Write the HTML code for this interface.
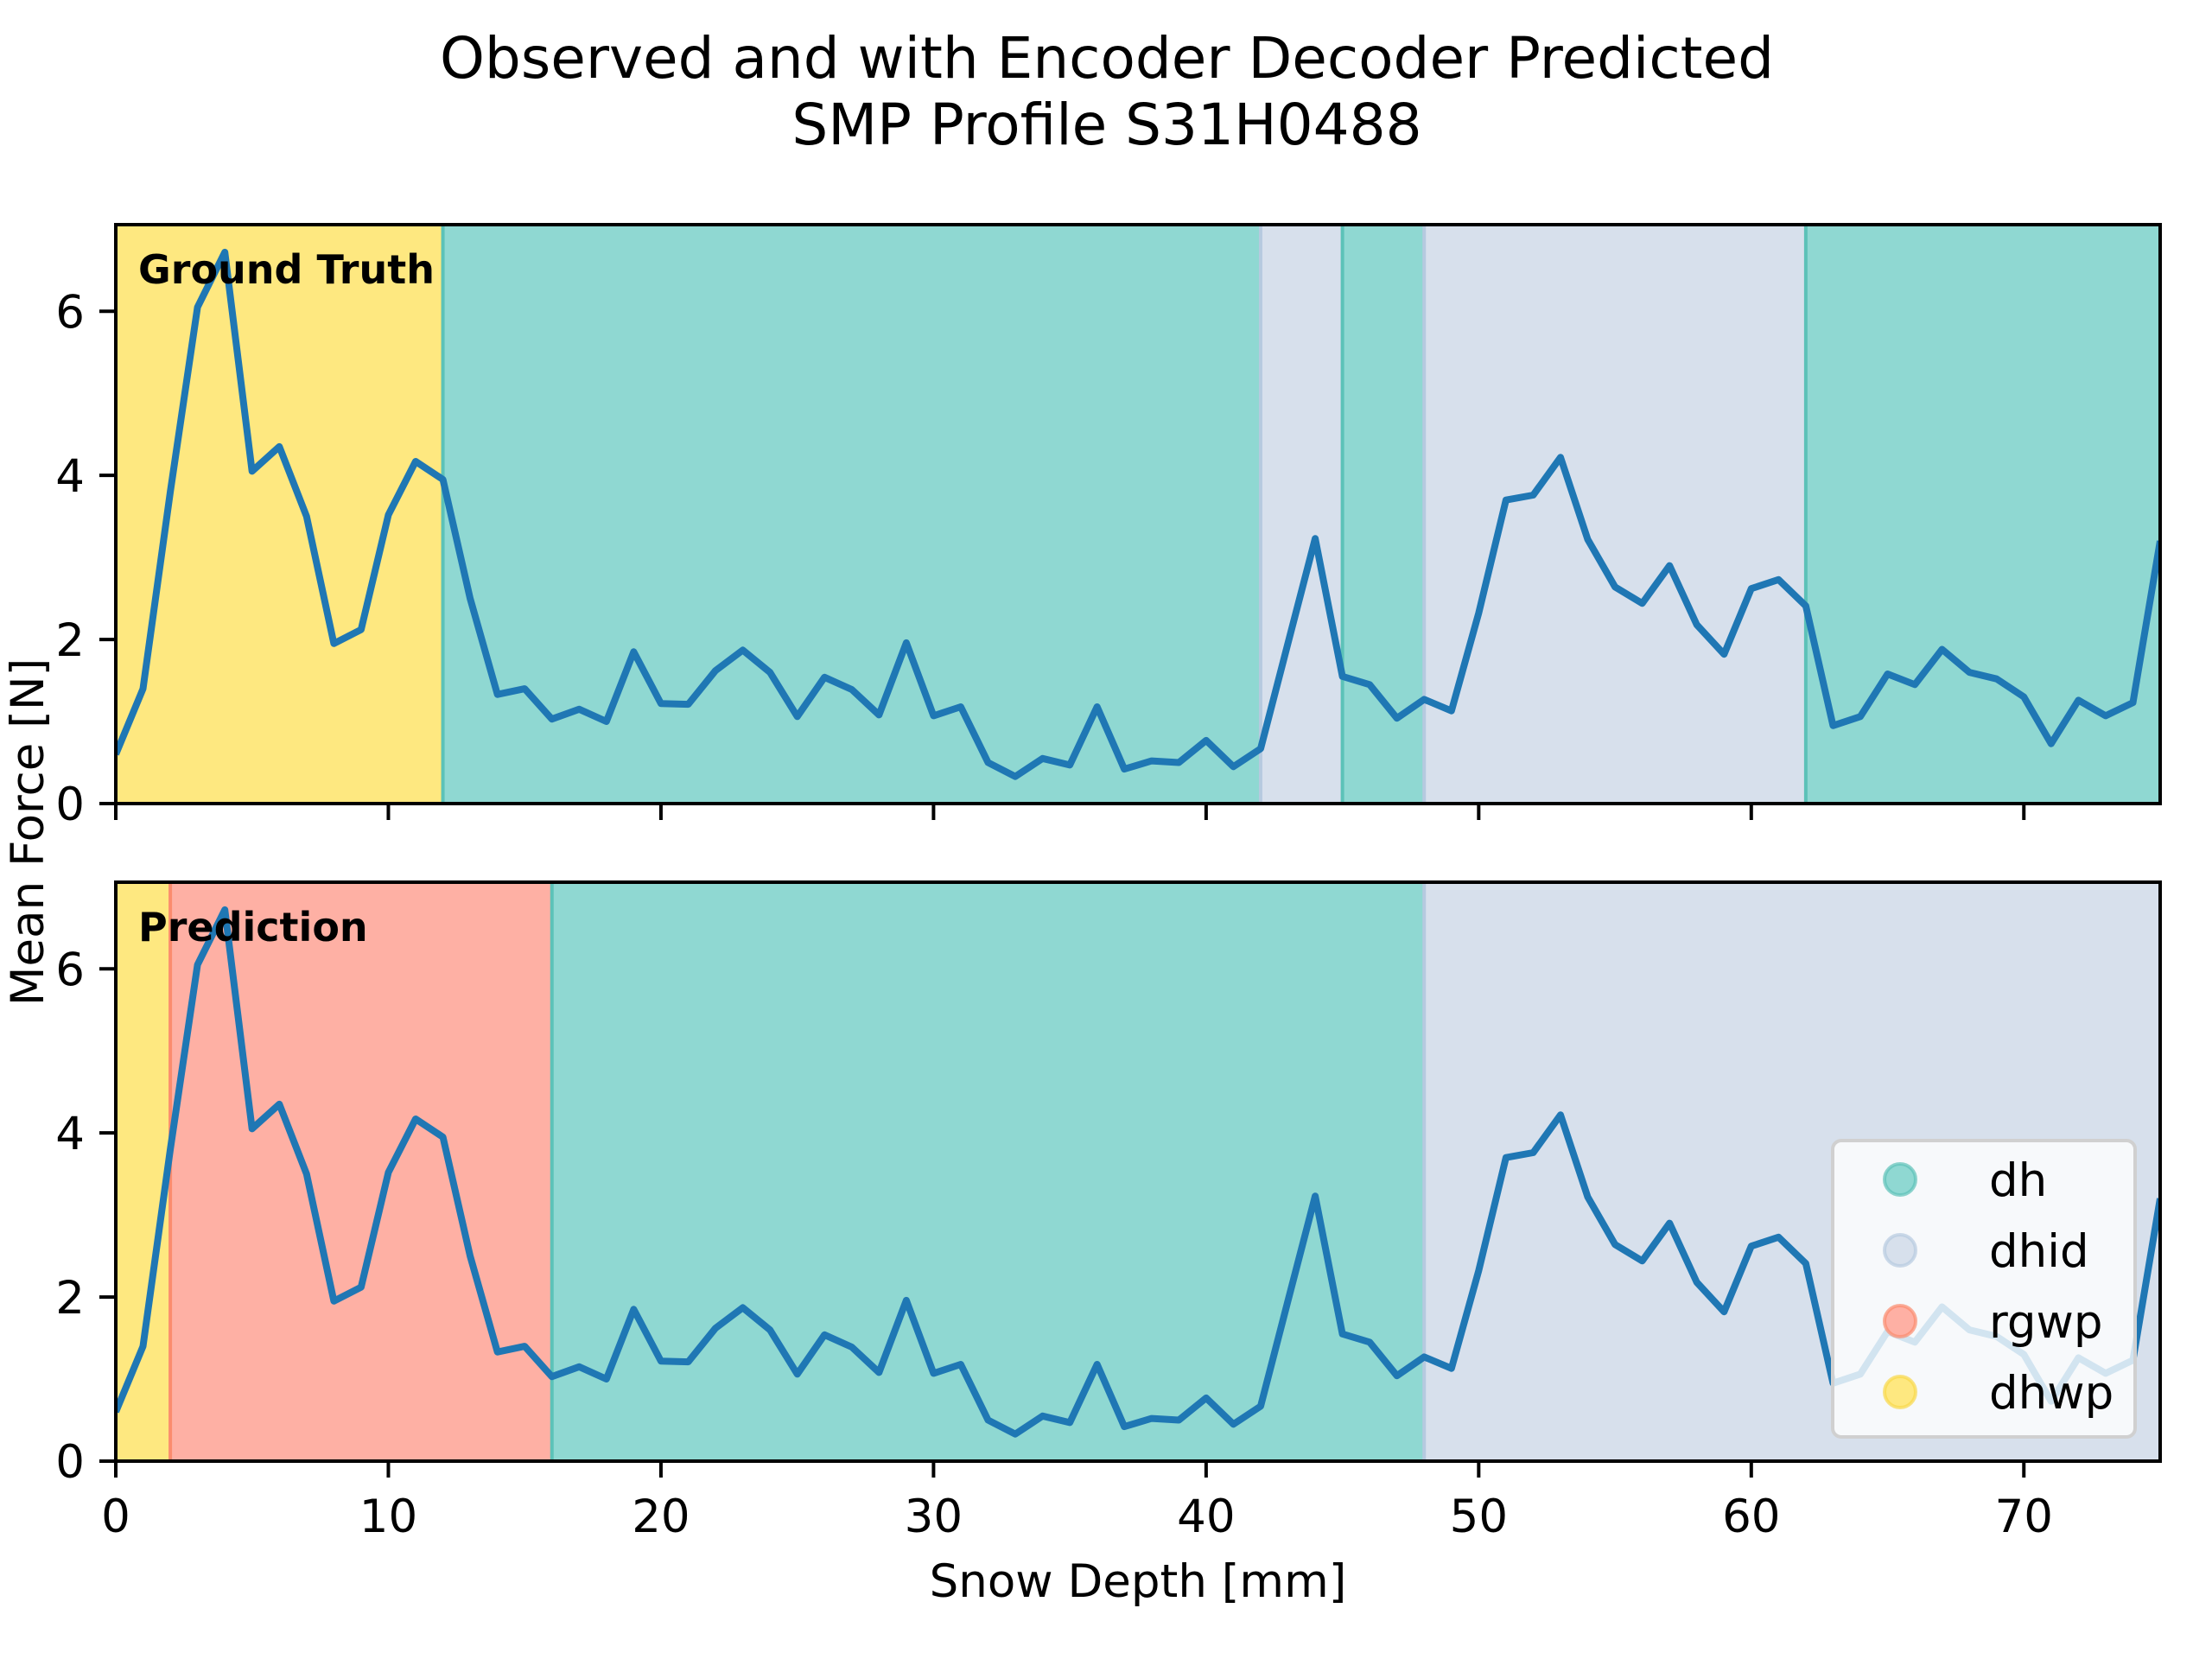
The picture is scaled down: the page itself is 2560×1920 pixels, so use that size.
<!DOCTYPE html>
<html><head><meta charset="utf-8"><style>
html,body{margin:0;padding:0;background:#fff}
svg{display:block}
text{font-family:"DejaVu Sans","Liberation Sans",sans-serif}
</style></head><body>
<svg id="chart" xmlns="http://www.w3.org/2000/svg" width="2560" height="1920" viewBox="0 0 2560 1920">
<rect width="2560" height="1920" fill="#fff"/>
<text x="1281" y="90" font-size="66" text-anchor="middle">Observed and with Encoder Decoder Predicted</text>
<text x="1281" y="167" font-size="66" text-anchor="middle">SMP Profile S31H0488</text>
<g id="top"></g>
<g id="bot"></g>
<text transform="translate(50,963) rotate(-90)" font-size="53" text-anchor="middle">Mean Force [N]</text>
<text x="1317" y="1848" font-size="53" text-anchor="middle">Snow Depth [mm]</text>
<g>
<rect x="2121" y="1320" width="350" height="343" rx="10" fill="#ffffff" fill-opacity="0.8" stroke="#d0d0d0" stroke-width="4"/>
</g>
<g id="legend-items"></g>
</svg>
<script>
const depth = [];
for (let i = 0; i <= 75; i++) depth.push(i);
const force = [0.6,1.4,3.8,6.05,6.72,4.05,4.35,3.5,1.95,2.12,3.52,4.17,3.95,2.5,1.33,1.4,1.03,1.15,1.0,1.85,
1.22,1.21,1.62,1.87,1.6,1.06,1.54,1.39,1.08,1.96,1.07,1.18,0.5,0.33,0.55,0.47,1.18,0.42,0.52,0.5,
0.77,0.45,0.67,1.95,3.23,1.55,1.45,1.04,1.27,1.13,2.32,3.7,3.76,4.22,3.22,2.64,2.44,2.9,2.18,1.82,
2.62,2.73,2.41,0.95,1.06,1.58,1.45,1.88,1.6,1.52,1.3,0.73,1.26,1.07,1.23,3.2];
const truthStart = [0,12,42,45,48,62];
const truthEnd   = [12,42,45,48,62,75];
const truthLabel = ["dhwp","dh","dhid","dh","dhid","dh"];
const predStart = [0,2,16,48];
const predEnd   = [2,16,48,75];
const predLabel = ["dhwp","rgwp","dh","dhid"];
const xTicks = [0,10,20,30,40,50,60,70];
const yTicks = [0,2,4,6];
const legendLabels = ["dh","dhid","rgwp","dhwp"];

const fill = {dh:"#8fd8d2", dhid:"#d7e0ec", rgwp:"#feb0a4", dhwp:"#fee880"};
const edge = {dh:"#5cc2b8", dhid:"#b6cadf", rgwp:"#fb8c6e", dhwp:"#f8d84a"};
const NS = "http://www.w3.org/2000/svg";
const X0 = 134, X1 = 2500, XMAX = 75, YMAX = 7.056;
const sx = v => X0 + (X1 - X0) * v / XMAX;
function el(tag, attrs, parent) {
  const e = document.createElementNS(NS, tag);
  for (const k in attrs) e.setAttribute(k, attrs[k]);
  parent.appendChild(e);
  return e;
}
function panel(g, top, bottom, starts, ends, labels, title, showXLabels) {
  const sy = v => bottom - (bottom - top) * v / YMAX;
  for (let i = 0; i < starts.length; i++) {
    const r = el("rect", {x: sx(starts[i]), y: top, width: sx(ends[i]) - sx(starts[i]), height: bottom - top,
      fill: fill[labels[i]]}, g);
    
    
    if (starts[i] > 0) {
      const l = el("line", {x1: sx(starts[i]), x2: sx(starts[i]), y1: top, y2: bottom, stroke: edge[labels[i]], "stroke-width": 4}, g);
      
      
    }
  }
  const pts = depth.map((d, i) => sx(d).toFixed(1) + "," + sy(force[i]).toFixed(1)).join(" ");
  const cp = el("clipPath", {id: "clip" + top}, g);
  el("rect", {x: X0, y: top, width: X1 - X0, height: bottom - top}, cp);
  const pl = el("polyline", {points: pts, fill: "none", stroke: "#1f77b4", "stroke-width": 8, "stroke-linejoin": "round", "clip-path": "url(#clip" + top + ")"}, g);
  
  
  const fr = el("rect", {x: X0, y: top, width: X1 - X0, height: bottom - top, fill: "none", stroke: "#000", "stroke-width": 4}, g);
  
  
  yTicks.forEach(t => {
    el("line", {x1: X0 - 19, x2: X0, y1: sy(t), y2: sy(t), stroke: "#000", "stroke-width": 4}, g);
    const tx = el("text", {x: X0 - 36, y: sy(t) + 19, "font-size": 53, "text-anchor": "end"}, g);
    tx.textContent = t;
    
    
  });
  xTicks.forEach(t => {
    el("line", {x1: sx(t), x2: sx(t), y1: bottom, y2: bottom + 19, stroke: "#000", "stroke-width": 4}, g);
    if (showXLabels) {
      const tx = el("text", {x: sx(t), y: bottom + 82, "font-size": 53, "text-anchor": "middle"}, g);
      tx.textContent = t;
      
      
    }
  });
  const tt = el("text", {x: 160, y: top + 68, "font-size": 46, "font-weight": "bold"}, g);
  tt.textContent = title;
  
  
}
panel(document.getElementById("top"), 260, 930, truthStart, truthEnd, truthLabel, "Ground Truth", false);
panel(document.getElementById("bot"), 1021, 1691, predStart, predEnd, predLabel, "Prediction", true);
const lg = document.getElementById("legend-items");
legendLabels.forEach((lab, i) => {
  const y = 1365 + i * 82;
  const c = el("circle", {cx: 2199, cy: y, r: 18, fill: fill[lab], stroke: edge[lab], "stroke-width": 4, "stroke-opacity": 0.7}, lg);
  
  
  const t = el("text", {x: 2302, y: y + 19, "font-size": 53}, lg);
  t.textContent = lab;
  
  
});
</script>
</body></html>
